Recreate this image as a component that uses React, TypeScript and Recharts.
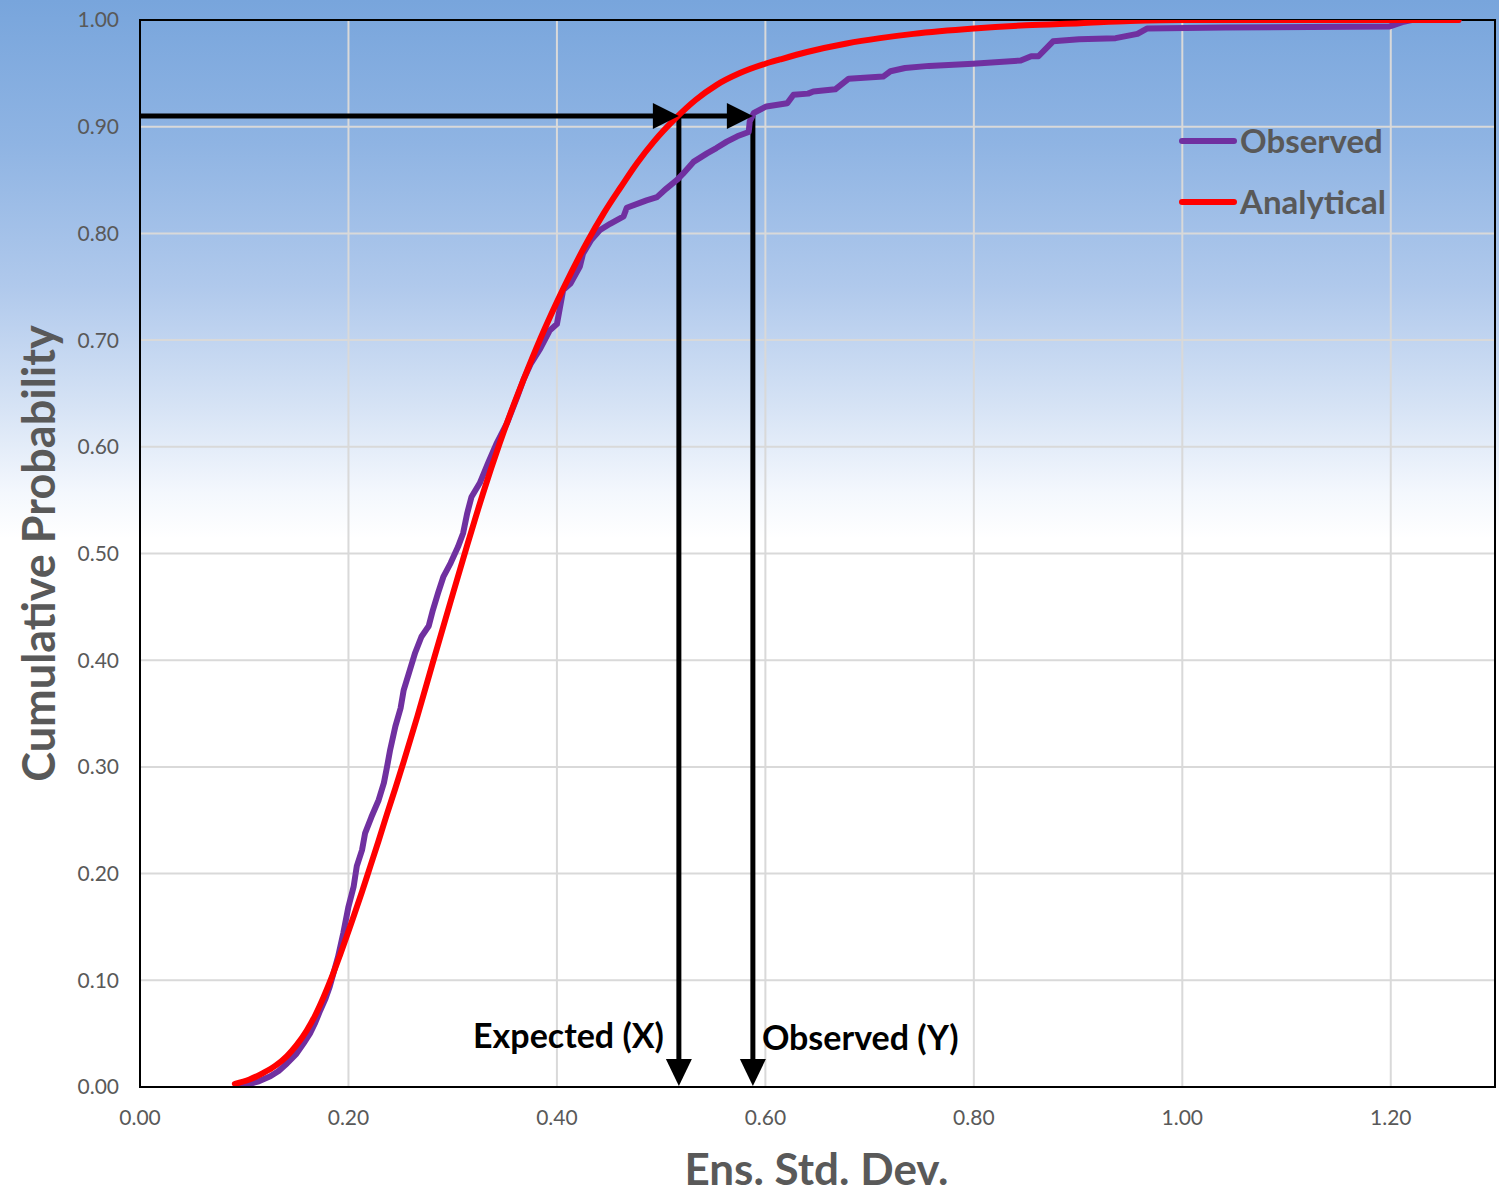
import React from 'react';
import {
  LineChart,
  Line,
  XAxis,
  YAxis,
  CartesianGrid,
  ReferenceLine,
  ReferenceDot,
  ReferenceArea,
  Legend,
} from 'recharts';

// ---- Data ----
const observedX = [
  0.094, 0.102, 0.113, 0.125, 0.133, 0.141, 0.15, 0.157, 0.163, 0.168, 0.173, 0.178, 0.182,
  0.186, 0.19, 0.195, 0.2, 0.205, 0.208, 0.213, 0.216, 0.222, 0.229, 0.234, 0.237, 0.24,
  0.245, 0.25, 0.253, 0.258, 0.264, 0.27, 0.277, 0.281, 0.286, 0.291, 0.298, 0.305, 0.31,
  0.314, 0.318, 0.326, 0.334, 0.342, 0.352, 0.362, 0.368, 0.375, 0.384, 0.393, 0.4, 0.403,
  0.406, 0.413, 0.422, 0.425, 0.433, 0.441, 0.451, 0.464, 0.467, 0.486, 0.496, 0.505, 0.515,
  0.521, 0.531, 0.544, 0.553, 0.563, 0.573, 0.584, 0.585, 0.589, 0.601, 0.621, 0.627, 0.641,
  0.646, 0.667, 0.68, 0.713, 0.72, 0.734, 0.757, 0.799, 0.845, 0.855, 0.862, 0.876, 0.901,
  0.936, 0.957, 0.966, 1.041, 1.199, 1.211, 1.22, 1.265,
];
const observedP = [
  0.0, 0.002, 0.005, 0.01, 0.015, 0.022, 0.031, 0.041, 0.05, 0.06, 0.072, 0.083, 0.094,
  0.108, 0.122, 0.144, 0.169, 0.188, 0.207, 0.222, 0.238, 0.253, 0.269, 0.285, 0.3, 0.316,
  0.338, 0.355, 0.372, 0.388, 0.407, 0.422, 0.432, 0.447, 0.463, 0.478, 0.491, 0.506, 0.519,
  0.538, 0.553, 0.566, 0.585, 0.603, 0.622, 0.647, 0.663, 0.678, 0.692, 0.709, 0.715, 0.731,
  0.747, 0.753, 0.769, 0.781, 0.794, 0.803, 0.809, 0.816, 0.824, 0.831, 0.834, 0.842, 0.85,
  0.856, 0.867, 0.875, 0.88, 0.886, 0.891, 0.895, 0.905, 0.913, 0.919, 0.922, 0.93, 0.931,
  0.933, 0.935, 0.945, 0.947, 0.952, 0.955, 0.957, 0.959, 0.962, 0.966, 0.966, 0.98, 0.982,
  0.983, 0.987, 0.992, 0.993, 0.994, 0.998, 1.0, 1.0,
];

const analyticalX = [
  0.091, 0.105, 0.118, 0.13, 0.141, 0.15, 0.16, 0.168, 0.176, 0.184, 0.192, 0.205, 0.213,
  0.221, 0.229, 0.237, 0.245, 0.253, 0.266, 0.281, 0.298, 0.314, 0.329, 0.345, 0.358, 0.368,
  0.384, 0.406, 0.429, 0.445, 0.461, 0.477, 0.493, 0.513, 0.533, 0.553, 0.575, 0.6, 0.614,
  0.64, 0.678, 0.71, 0.742, 0.8, 0.85, 0.902, 0.95, 1.0, 1.265,
];
const analyticalP = [
  0.003, 0.007, 0.013, 0.02, 0.029, 0.039, 0.053, 0.067, 0.084, 0.103, 0.124, 0.16, 0.183,
  0.207, 0.231, 0.256, 0.28, 0.305, 0.347, 0.398, 0.455, 0.508, 0.556, 0.603, 0.638, 0.663,
  0.701, 0.748, 0.792, 0.819, 0.843, 0.866, 0.886, 0.907, 0.925, 0.939, 0.95, 0.959, 0.963,
  0.97, 0.978, 0.983, 0.987, 0.992, 0.995, 0.997, 0.999, 1.0, 1.0,
];

const seriesOrder = ['Observed', 'Analytical'];
const xTicks = [0, 0.2, 0.4, 0.6, 0.8, 1.0, 1.2];
const yTicks = [0, 0.1, 0.2, 0.3, 0.4, 0.5, 0.6, 0.7, 0.8, 0.9, 1.0];

// annotation values
const probLevel = 0.91;
const expectedValue = 0.517;
const observedValue = 0.588;

const observedData = observedX.map((x, i) => ({ x, y: observedP[i] }));
const analyticalData = analyticalX.map((x, i) => ({ x, y: analyticalP[i] }));

const FONT = 'Lato, "Open Sans", sans-serif';
const GRAY = '#595959';

const RightArrow = (props: any) => {
  const { cx, cy } = props;
  return (
    <polygon
      points={`${cx},${cy} ${cx - 26},${cy - 13} ${cx - 26},${cy + 13}`}
      fill="#000"
    />
  );
};

const DownArrow = (props: any) => {
  const { cx, cy } = props;
  const tip = cy - 1;
  return (
    <polygon
      points={`${cx},${tip} ${cx - 13},${tip - 27} ${cx + 13},${tip - 27}`}
      fill="#000"
    />
  );
};

const makeAnnotation = (text: string, anchor: 'start' | 'end', dx: number, dy: number) =>
  (props: any) => (
    <text
      x={props.cx + dx}
      y={props.cy + dy}
      textAnchor={anchor}
      fontFamily={FONT}
      fontWeight={700}
      fontSize={34}
      fill="#000"
    >
      {text}
    </text>
  );

const LegendContent = (props: any) => {
  const payload = [...(props.payload || [])].sort(
    (a: any, b: any) => seriesOrder.indexOf(a.value) - seriesOrder.indexOf(b.value)
  );
  return (
    <svg width={240} height={110} style={{ display: 'block' }}>
      {payload.map((entry: any, i: number) => (
        <g key={entry.value}>
          <line
            x1={3}
            x2={55}
            y1={21 + i * 61}
            y2={21 + i * 61}
            stroke={entry.color}
            strokeWidth={6}
            strokeLinecap="round"
          />
          <text
            x={61}
            y={33 + i * 61}
            fontFamily={FONT}
            fontWeight={700}
            fontSize={33}
            fill={GRAY}
          >
            {entry.value}
          </text>
        </g>
      ))}
    </svg>
  );
};

export default function App() {
  return (
    <div
      style={{
        position: 'absolute',
        left: 0,
        top: 0,
        width: 1499,
        height: 1197,
        background:
          'linear-gradient(to bottom, #78a5dc 0%, #8fb4e3 12%, #b0c9ec 24%, #d6e3f5 34%, #f3f7fd 41%, #ffffff 45%, #ffffff 100%)',
        fontFamily: FONT,
      }}
    >
      <LineChart
        width={1499}
        height={1197}
        margin={{ top: 20, right: 4, bottom: 0, left: 0 }}
      >
        <CartesianGrid stroke="#d9d9d9" strokeWidth={2} />
        <XAxis
          type="number"
          dataKey="x"
          domain={[0, 1.3]}
          ticks={xTicks}
          interval={0}
          allowDataOverflow
          height={110}
          tickLine={false}
          tickSize={0}
          tickMargin={23}
          axisLine={{ stroke: '#000', strokeWidth: 2 }}
          tickFormatter={(v: number) => v.toFixed(2)}
          tick={{ fill: GRAY, fontSize: 21, fontFamily: FONT }}
          label={{
            content: (p: any) => {
              const vb = p.viewBox || { x: 140, y: 1087, width: 1355, height: 110 };
              return (
                <text
                  x={vb.x + vb.width / 2 - 1}
                  y={vb.y + 98}
                  textAnchor="middle"
                  fontFamily={FONT}
                  fontWeight={700}
                  fontSize={44}
                  fill={GRAY}
                >
                  Ens. Std. Dev.
                </text>
              );
            },
          }}
        />
        <YAxis
          type="number"
          domain={[0, 1]}
          ticks={yTicks}
          interval={0}
          allowDataOverflow
          width={140}
          tickLine={false}
          tickSize={0}
          tickMargin={21}
          axisLine={{ stroke: '#000', strokeWidth: 2 }}
          tickFormatter={(v: number) => v.toFixed(2)}
          tick={{ fill: GRAY, fontSize: 21, fontFamily: FONT }}
          label={{
            content: (p: any) => {
              const vb = p.viewBox || { x: 0, y: 20, width: 140, height: 1067 };
              const cx = vb.x + 55;
              const cy = vb.y + vb.height / 2;
              return (
                <text
                  x={cx}
                  y={cy}
                  transform={`rotate(-90 ${cx} ${cy})`}
                  textAnchor="middle"
                  fontFamily={FONT}
                  fontWeight={700}
                  fontSize={45}
                  fill={GRAY}
                >
                  Cumulative Probability
                </text>
              );
            },
          }}
        />
        <ReferenceArea
          x1={0}
          x2={1.3}
          y1={0}
          y2={1}
          fill="none"
          fillOpacity={0}
          stroke="#000"
          strokeWidth={2}
          ifOverflow="visible"
        />
        <Legend
          layout="horizontal"
          align="center"
          verticalAlign="middle"
          wrapperStyle={{ left: 1179, top: 120, width: 240 }}
          content={LegendContent}
        />
        <ReferenceLine
          segment={[
            { x: 0, y: probLevel },
            { x: expectedValue - 0.02, y: probLevel },
          ]}
          stroke="#000"
          strokeWidth={5}
          ifOverflow="visible"
        />
        <ReferenceLine
          segment={[
            { x: expectedValue, y: probLevel },
            { x: observedValue - 0.02, y: probLevel },
          ]}
          stroke="#000"
          strokeWidth={5}
          ifOverflow="visible"
        />
        <ReferenceLine
          segment={[
            { x: expectedValue, y: probLevel },
            { x: expectedValue, y: 0.02 },
          ]}
          stroke="#000"
          strokeWidth={5}
          ifOverflow="visible"
        />
        <ReferenceLine
          segment={[
            { x: observedValue, y: probLevel },
            { x: observedValue, y: 0.02 },
          ]}
          stroke="#000"
          strokeWidth={5}
          ifOverflow="visible"
        />
        <Line
          name="Observed"
          data={observedData}
          dataKey="y"
          type="linear"
          stroke="#7030a0"
          strokeWidth={6}
          strokeLinejoin="round"
          strokeLinecap="round"
          dot={false}
          activeDot={false}
          isAnimationActive={false}
        />
        <Line
          name="Analytical"
          data={analyticalData}
          dataKey="y"
          type="monotone"
          stroke="#ff0000"
          strokeWidth={6}
          strokeLinejoin="round"
          strokeLinecap="round"
          dot={false}
          activeDot={false}
          isAnimationActive={false}
        />
        <ReferenceDot x={expectedValue} y={probLevel} r={0} ifOverflow="visible" shape={RightArrow} />
        <ReferenceDot x={observedValue} y={probLevel} r={0} ifOverflow="visible" shape={RightArrow} />
        <ReferenceDot x={expectedValue} y={0} r={0} ifOverflow="visible" shape={DownArrow} />
        <ReferenceDot x={observedValue} y={0} r={0} ifOverflow="visible" shape={DownArrow} />
        <ReferenceDot
          x={expectedValue}
          y={0}
          r={0}
          ifOverflow="visible"
          shape={makeAnnotation('Expected (X)', 'end', -15, -39)}
        />
        <ReferenceDot
          x={observedValue}
          y={0}
          r={0}
          ifOverflow="visible"
          shape={makeAnnotation('Observed (Y)', 'start', 9, -37)}
        />
      </LineChart>
    </div>
  );
}
